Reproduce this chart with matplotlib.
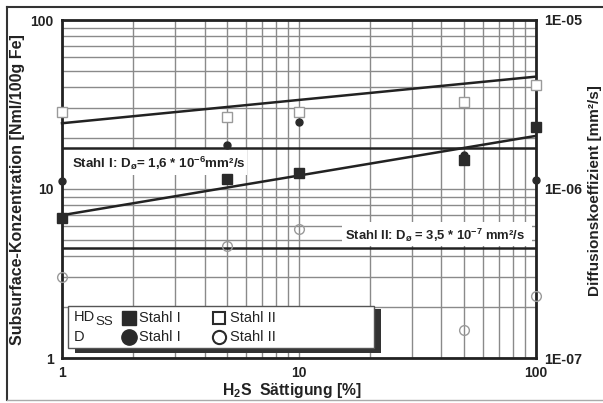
import matplotlib
matplotlib.use('Agg')
import matplotlib.pyplot as plt
from matplotlib.patches import Rectangle
from matplotlib.lines import Line2D
import matplotlib.ticker as mticker

plt.rcParams['font.family'] = ['Liberation Sans', 'DejaVu Sans']
plt.rcParams['mathtext.fontset'] = 'custom'
plt.rcParams['mathtext.rm'] = 'Liberation Sans:bold'
plt.rcParams['mathtext.it'] = 'Liberation Sans:bold'
plt.rcParams['mathtext.bf'] = 'Liberation Sans:bold'

# ---- data ----
saturation = [1, 5, 10, 50, 100]
hdss_stahl1 = [6.7, 11.5, 12.4, 14.9, 23.2]
hdss_stahl2 = [28.4, 26.5, 28.6, 32.8, 41.2]
d_stahl1 = [1.11e-6, 1.82e-6, 2.50e-6, 1.59e-6, 1.13e-6]
d_stahl2 = [3.0e-7, 4.6e-7, 5.78e-7, 1.47e-7, 2.34e-7]
fit_x = [1, 100]
fit_hdss_stahl1 = [7.0, 20.6]
fit_hdss_stahl2 = [24.5, 46.2]
d_mean_stahl1 = 1.74e-6
d_mean_stahl2 = 4.45e-7
x_ticks = [1, 10, 100]
x_ticklabels = ['1', '10', '100']
y_ticks = [1, 10, 100]
y_ticklabels = ['1', '10', '100']
y2_ticks = [1e-7, 1e-6, 1e-5]
y2_ticklabels = ['1E-07', '1E-06', '1E-05']

W, H = 603, 403
fig = plt.figure(figsize=(W / 100, H / 100), dpi=100)


def fx(x):
    return x / W


def fy(y):
    return 1 - y / H


L, R, T, B = 62, 535.5, 20, 358
ax = fig.add_axes([fx(L), fy(B), fx(R) - fx(L), fy(T) - fy(B)])
ax.set_xscale('log')
ax.set_yscale('log')
ax.set_xlim(1, 100)
ax.set_ylim(1, 100)
ax.grid(True, which='both', color='#8a8a8a', lw=1.0, zorder=0)
ax.set_axisbelow(True)

dark = '#222222'
for s in ax.spines.values():
    s.set_linewidth(2.0)
    s.set_color(dark)

ax.set_xticks(x_ticks)
ax.set_xticklabels(x_ticklabels)
ax.set_yticks(y_ticks)
ax.set_yticklabels(y_ticklabels)
ax.xaxis.set_minor_formatter(mticker.NullFormatter())
ax.yaxis.set_minor_formatter(mticker.NullFormatter())
ax.tick_params(which='both', length=0)
ax.tick_params(axis='x', pad=6, labelsize=10)
ax.tick_params(axis='y', pad=6, labelsize=10)
for lab in ax.get_xticklabels() + ax.get_yticklabels():
    lab.set_fontweight('bold')
    lab.set_color(dark)

# regression lines
ax.plot(fit_x, fit_hdss_stahl1, color=dark, lw=1.8, zorder=3, clip_on=False)
ax.plot(fit_x, fit_hdss_stahl2, color=dark, lw=1.8, zorder=3, clip_on=False)

# HDss markers
ax.plot(saturation, hdss_stahl1, 's', ms=7, color='#2a2a2a', zorder=5, clip_on=False)
ax.plot(saturation, hdss_stahl2, 's', ms=7, mfc='white', mec='#9a9a9a', mew=1.0,
        zorder=5, clip_on=False)

# white boxes behind annotations
ax.add_patch(Rectangle((fx(63), fy(175)), fx(247) - fx(63), fy(149) - fy(175),
                       transform=fig.transFigure, facecolor='white', edgecolor='none',
                       zorder=2))
ax.add_patch(Rectangle((fx(342), fy(246)), fx(532) - fx(342), fy(222) - fy(246),
                       transform=fig.transFigure, facecolor='white', edgecolor='none',
                       zorder=2))

# axis titles
fig.text(fx(292), fy(395), 'H$_2$S  Sättigung [%]', fontsize=11.3, fontweight='bold',
         color=dark, ha='center', va='baseline')
fig.text(fx(18), fy(189.5), 'Subsurface-Konzentration [Nml/100g Fe]', fontsize=11.5,
         fontweight='bold', color=dark, ha='center', va='center', rotation=90)
fig.text(fx(595), fy(191), 'Diffusionskoeffizient [mm²/s]', fontsize=11,
         fontweight='bold', color=dark, ha='center', va='center', rotation=90)

# right axis
ax2 = ax.twinx()
ax2.set_yscale('log')
ax2.set_ylim(1e-7, 1e-5)
ax2.set_yticks(y2_ticks)
ax2.set_yticklabels(y2_ticklabels)
ax2.yaxis.set_minor_formatter(mticker.NullFormatter())
ax2.tick_params(which='both', length=0)
ax2.tick_params(axis='y', pad=6, labelsize=10.3)
for lab in ax2.get_yticklabels():
    lab.set_fontweight('bold')
    lab.set_color(dark)
for s in ax2.spines.values():
    s.set_visible(False)

ax2.axhline(d_mean_stahl1, color=dark, lw=1.8, zorder=3)
ax2.axhline(d_mean_stahl2, color=dark, lw=1.8, zorder=3)

ax2.plot(saturation, d_stahl1, 'o', ms=5, color='#2a2a2a', zorder=4, clip_on=False)
ax2.plot(saturation, d_stahl2, 'o', ms=7, mfc='none', mec='#9a9a9a', mew=1.0,
         zorder=4, clip_on=False)

# annotations
fig.text(fx(72), fy(163), 'Stahl I: D$_{ø}$= 1,6 * 10$^{-6}$mm²/s', fontsize=9.6,
         fontweight='bold', color=dark, va='center', ha='left')
fig.text(fx(345), fy(235), 'Stahl II: D$_{ø}$ = 3,5 * 10$^{-7}$ mm²/s', fontsize=9.4,
         fontweight='bold', color=dark, va='center', ha='left')

# legend box with shadow
ax2.add_patch(Rectangle((fx(75), fy(353)), fx(381) - fx(75), fy(309) - fy(353),
                        transform=fig.transFigure, facecolor='#333333',
                        edgecolor='none', zorder=8))
ax2.add_patch(Rectangle((fx(68), fy(348)), fx(374) - fx(68), fy(306) - fy(348),
                        transform=fig.transFigure, facecolor='white',
                        edgecolor='#555555', lw=1.0, zorder=9))
lk = dict(transform=fig.transFigure, zorder=10, clip_on=False)
ax2.add_line(Line2D([fx(129)], [fy(318)], marker='s', ms=10, color='#2a2a2a',
                    ls='none', **lk))
ax2.add_line(Line2D([fx(129)], [fy(337)], marker='o', ms=11, color='#2a2a2a',
                    ls='none', **lk))
ax2.add_line(Line2D([fx(219)], [fy(318)], marker='s', ms=9, mfc='white',
                    mec='#2a2a2a', mew=1.5, ls='none', **lk))
ax2.add_line(Line2D([fx(219)], [fy(337)], marker='o', ms=9.5, mfc='white',
                    mec='#2a2a2a', mew=1.5, ls='none', **lk))
tk = dict(fontsize=10.5, color=dark, va='center', ha='left', zorder=11)
fig.text(fx(74), fy(317), 'HD', **tk)
fig.text(fx(95), fy(322), 'SS', fontsize=9.5, color=dark, va='center', ha='left',
         zorder=11)
fig.text(fx(74), fy(337), 'D', **tk)
fig.text(fx(139), fy(318), 'Stahl I', **tk)
fig.text(fx(139), fy(337), 'Stahl I', **tk)
fig.text(fx(230), fy(318), 'Stahl II', **tk)
fig.text(fx(230), fy(337), 'Stahl II', **tk)

# outer frame
fig.add_artist(Line2D([fx(7), 1.0], [fy(7), fy(7)], color='#333333', lw=1.5))
fig.add_artist(Line2D([fx(7), fx(7)], [fy(7), fy(400)], color='#333333', lw=1.5))
fig.add_artist(Line2D([fx(7), 1.0], [fy(400), fy(400)], color='#aaaaaa', lw=1.0))

fig.savefig('out.png', dpi=100)
